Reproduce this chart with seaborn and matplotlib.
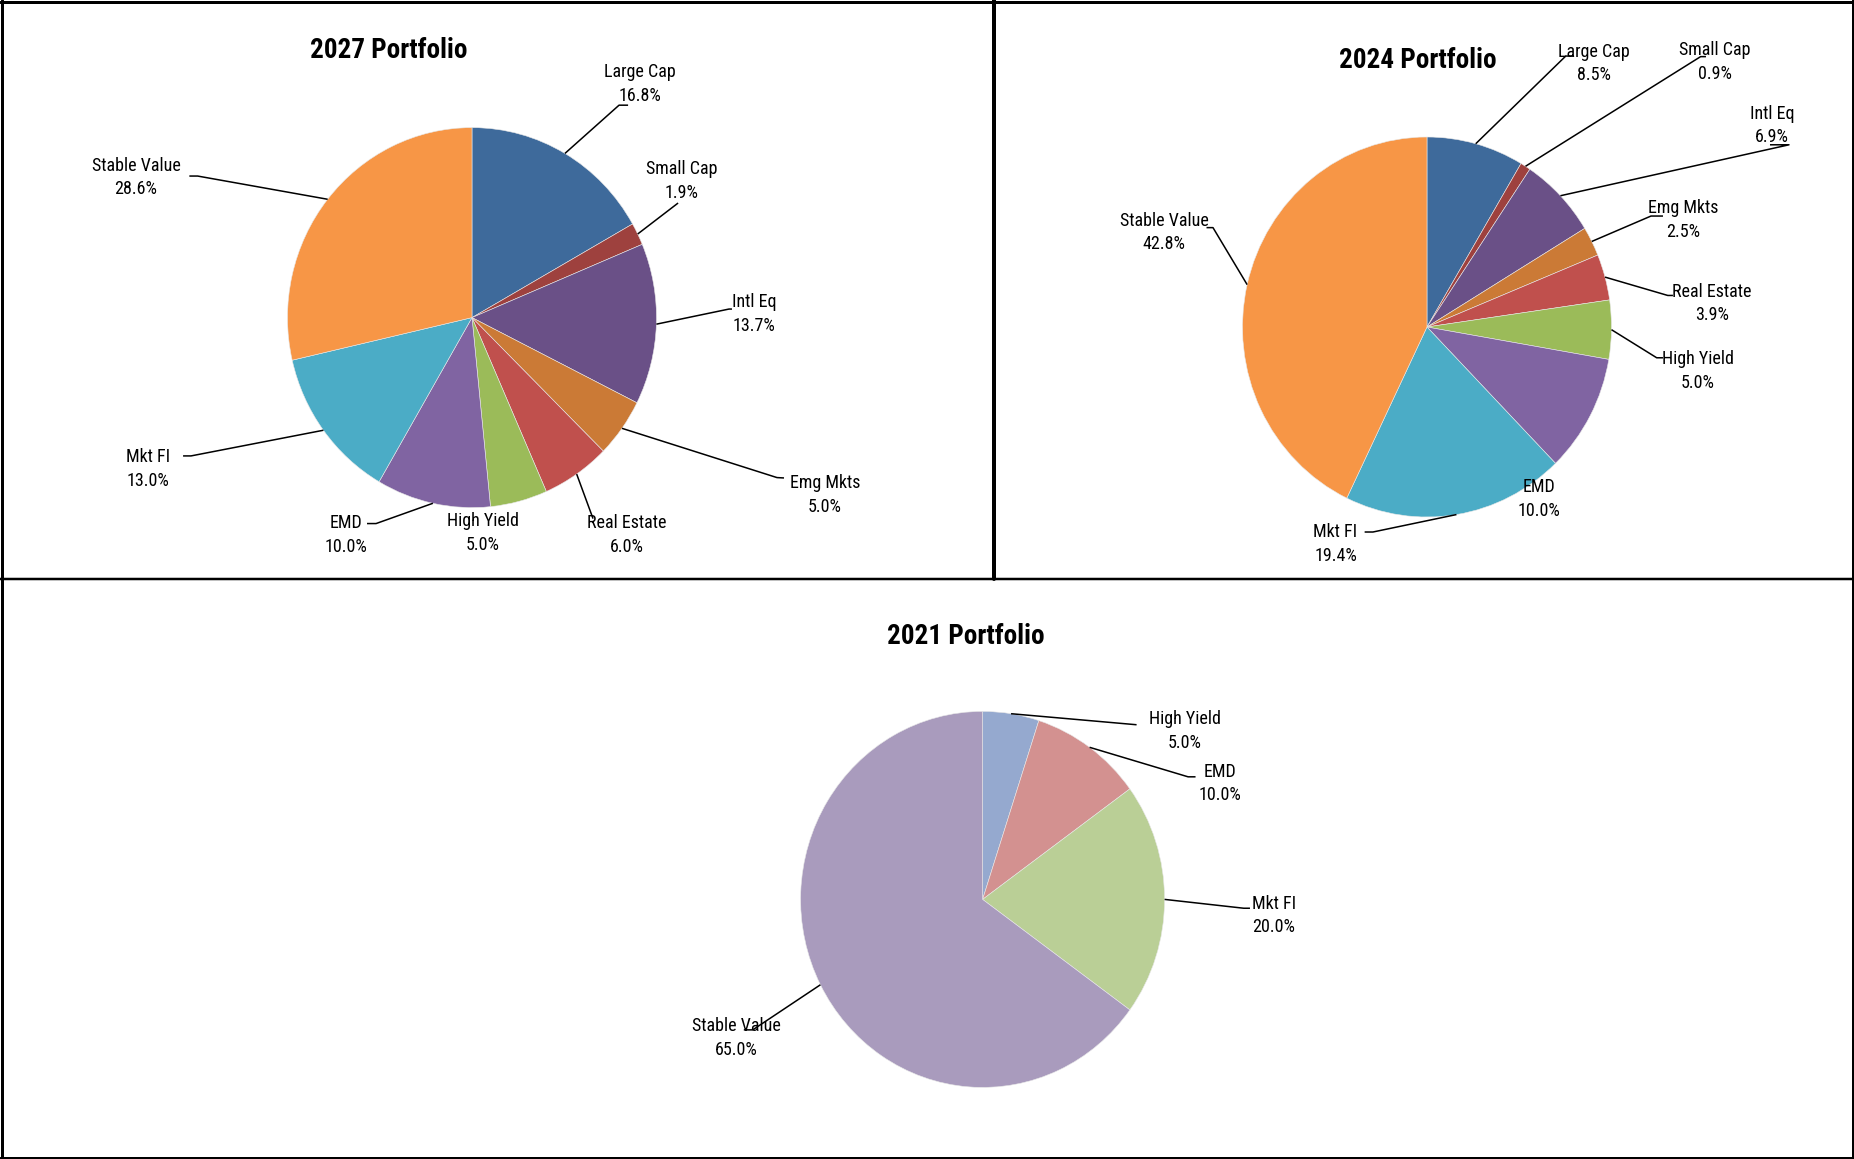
import numpy as np
import matplotlib
matplotlib.use("Agg")
import matplotlib.pyplot as plt
from matplotlib.lines import Line2D
from matplotlib import font_manager
import seaborn as sns

# ---------------- data ----------------
titles = ["2027 Portfolio", "2024 Portfolio", "2021 Portfolio"]

cats_2027 = ["Large Cap", "Small Cap", "Intl Eq", "Emg Mkts", "Real Estate",
             "High Yield", "EMD", "Mkt FI", "Stable Value"]
vals_2027 = [16.8, 1.9, 13.7, 5.0, 6.0, 5.0, 10.0, 13.0, 28.6]

cats_2024 = ["Large Cap", "Small Cap", "Intl Eq", "Emg Mkts", "Real Estate",
             "High Yield", "EMD", "Mkt FI", "Stable Value"]
vals_2024 = [8.5, 0.9, 6.9, 2.5, 3.9, 5.0, 10.0, 19.4, 42.8]

cats_2021 = ["High Yield", "EMD", "Mkt FI", "Stable Value"]
vals_2021 = [5.0, 10.0, 20.0, 65.0]

colors_full = ["#3E6A9B", "#9E413E", "#6A5087", "#CB7A36", "#C0504D",
               "#9BBB59", "#8064A2", "#4BACC6", "#F79646"]
colors_2021 = ["#95A9CF", "#D39190", "#BACF96", "#A99BBD"]

# ---------------- style ----------------
sns.set_theme(style="white")

_names = {f.name for f in font_manager.fontManager.ttflist}
NARROW = None
for c in ["Liberation Sans Narrow", "Roboto Condensed", "Open Sans Condensed",
          "Noto Sans Condensed"]:
    if c in _names:
        NARROW = c
        break
if NARROW is not None:
    FONT, LSIZE, TSIZE = NARROW, 13, 19.5
else:
    FONT = "Liberation Sans" if "Liberation Sans" in _names else "DejaVu Sans"
    LSIZE, TSIZE = 12.3, 17.5
plt.rcParams["font.family"] = [FONT, "DejaVu Sans"]

W, H = 1854, 1159
fig = plt.figure(figsize=(W / 100, H / 100), dpi=100)
fig.patch.set_facecolor("white")

# layout: panel rects (px, y from top), pie centre and radii (px)
panels = [
    dict(rect=(0, 0, 994, 579), c=(472, 317.6), r=(184.5, 190)),
    dict(rect=(994, 0, 1854, 579), c=(1427, 327), r=(184.5, 190)),
    dict(rect=(0, 579, 1854, 1159), c=(982.6, 899.4), r=(182, 188)),
]
title_pos = [(-0.450, 1.408), (-0.049, 1.400), (-0.091, 1.396)]

label_pos = [
    [(0.911, 1.229), (1.138, 0.719), (1.528, 0.019), (1.913, -0.934), (0.840, -1.144),
     (0.060, -1.134), (-0.683, -1.144), (-1.756, -0.797), (-1.821, 0.737)],
    [(0.905, 1.387), (1.561, 1.395), (1.870, 1.061), (1.388, 0.563), (1.545, 0.124),
     (1.469, -0.232), (0.607, -0.905), (-0.496, -1.142), (-1.425, 0.497)],
    [(1.112, 0.896), (1.305, 0.616), (1.601, -0.086), (-1.355, -0.737)],
]
# leader lines: (elbow, stub end) in pie units, None = no leader
leaders = [
    [((0.797, 1.118), (0.846, 1.118)), ((1.117, 0.603), None), ((1.393, 0.045), (1.409, 0.045)),
     ((1.653, -0.842), (1.691, -0.844)), ((0.656, -1.058), None), None,
     ((-0.520, -1.084), (-0.569, -1.084)), ((-1.523, -0.728), (-1.566, -0.728)),
     ((-1.487, 0.745), (-1.532, 0.745))],
    [((0.752, 1.426), (0.797, 1.426)), ((1.483, 1.423), (1.512, 1.423)),
     ((1.962, 0.959), (1.859, 0.959)), ((1.214, 0.584), (1.279, 0.584)),
     ((1.305, 0.166), (1.333, 0.166)), ((1.245, -0.162), (1.279, -0.162)), None,
     ((-0.293, -1.079), (-0.338, -1.079)), ((-1.160, 0.523), (-1.195, 0.523))],
    [((0.846, 0.929), None), ((1.129, 0.652), (1.170, 0.652)),
     ((1.435, -0.047), (1.469, -0.047)), ((-1.263, -0.694), (-1.312, -0.694))],
]

datasets = [(cats_2027, vals_2027, colors_full),
            (cats_2024, vals_2024, colors_full),
            (cats_2021, vals_2021, colors_2021)]

for i, (cats, vals, cols) in enumerate(datasets):
    p = panels[i]
    x0, y0, x1, y1 = p["rect"]
    cx, cy = p["c"]
    rx, ry = p["r"]
    ax = fig.add_axes([x0 / W, 1 - y1 / H, (x1 - x0) / W, (y1 - y0) / H])
    wedges, _ = ax.pie(vals, colors=sns.color_palette(cols), startangle=90,
                       counterclock=False, radius=1, center=(0, 0),
                       wedgeprops=dict(linewidth=0.4, edgecolor="#e8e8e8"))
    ax.set_aspect("auto")
    ax.set_xlim((x0 - cx) / rx, (x1 - cx) / rx)
    ax.set_ylim((cy - y1) / ry, (cy - y0) / ry)
    ax.axis("off")

    tx, ty = title_pos[i]
    ax.text(tx, ty, titles[i], ha="center", va="center", fontsize=TSIZE,
            fontweight="bold", color="black")

    for j, (w, cat, v) in enumerate(zip(wedges, cats, vals)):
        lx, ly = label_pos[i][j]
        ax.text(lx, ly, f"{cat}\n{v:.1f}%", ha="center", va="center",
                fontsize=LSIZE, linespacing=1.4, color="black")
        ld = leaders[i][j]
        if ld is not None:
            mid = np.deg2rad((w.theta1 + w.theta2) / 2)
            sx, sy = np.cos(mid), np.sin(mid)
            (ex, ey), stub = ld
            xs, ys = [sx, ex], [sy, ey]
            if stub is not None:
                xs.append(stub[0])
                ys.append(stub[1])
            ax.plot(xs, ys, color="black", lw=1.1, solid_capstyle="butt")

# panel borders
def hline(y, x0, x1, lw):
    fig.add_artist(Line2D([x0 / W, x1 / W], [1 - y / H, 1 - y / H],
                          color="black", lw=lw * 0.72, transform=fig.transFigure))


def vline(x, y0, y1, lw):
    fig.add_artist(Line2D([x / W, x / W], [1 - y0 / H, 1 - y1 / H],
                          color="black", lw=lw * 0.72, transform=fig.transFigure))


hline(1.5, 0, W, 3)
hline(579, 0, W, 2.5)
hline(1157.5, 0, W, 3)
vline(1.5, 0, H, 3)
vline(1852.5, 0, H, 3)
vline(994, 0, 579, 4)

fig.savefig("out.png", dpi=100, facecolor="white")
